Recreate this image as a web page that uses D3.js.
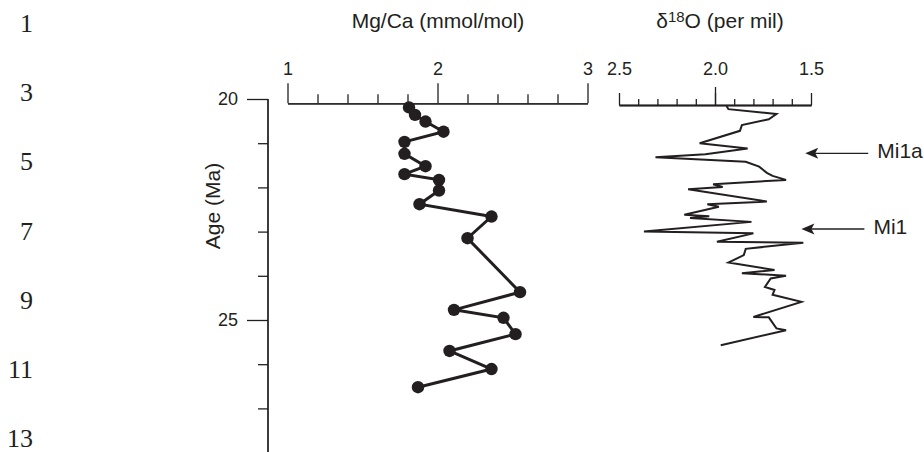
<html>
  <style>
    body { margin: 0; background: #fff; }
    svg text { font-family: "Liberation Sans", Arial, sans-serif; fill: #231f20; }
    .axis path, .axis line { stroke: #231f20; stroke-width: 1.3px; }
    .lineno { font-family: "Liberation Serif", "Times New Roman", serif !important; }
  </style>
  <body>
    <svg id="chart" width="924" height="452"></svg>
  </body>
  <script src="https://cdn.jsdelivr.net/npm/d3@7"></script>
  <script>
    // Mg/Ca record (age in Ma, mmol/mol)
    const mgAge = [20.19, 20.36, 20.51, 20.74, 20.97, 21.24, 21.52, 21.70, 21.83, 22.07,
      22.38, 22.66, 23.15, 24.37, 24.77, 24.95, 25.32, 25.70, 26.11, 26.52]
    const mgCa = [1.81, 1.85, 1.92, 2.04, 1.78, 1.78, 1.92, 1.78, 2.01, 2.01,
      1.88, 2.36, 2.20, 2.55, 2.11, 2.44, 2.52, 2.08, 2.36, 1.87]

    // oxygen isotope record (age in Ma, per mil)
    const isoAge = [20.16, 20.23, 20.34, 20.46, 20.59, 20.72, 21.00, 21.12, 21.25, 21.32,
      21.42, 21.53, 21.67, 21.74, 21.83, 21.93, 21.99, 22.04, 22.32, 22.38,
      22.44, 22.62, 22.65, 22.69, 22.78, 23.00, 23.04, 23.23, 23.25, 23.39,
      23.53, 23.70, 23.87, 23.94, 24.00, 24.06, 24.25, 24.32, 24.43, 24.59,
      24.93, 24.94, 25.19, 25.23, 25.57]
    const d18O = [1.94, 1.93, 1.68, 1.72, 1.86, 1.87, 2.08, 1.83, 2.05, 2.31,
      1.84, 1.77, 1.73, 1.70, 1.63, 2.01, 1.96, 2.14, 1.73, 2.04,
      1.98, 2.16, 2.03, 2.13, 1.81, 2.37, 1.80, 1.99, 1.54, 1.84,
      1.85, 1.93, 1.69, 1.86, 1.63, 1.71, 1.74, 1.69, 1.70, 1.55,
      1.80, 1.72, 1.68, 1.63, 1.97]

    // glaciation events marked by arrows
    const eventNames = ['Mi1a', 'Mi1']
    const eventAge = [21.23, 22.94]
    const eventD18O = [1.53, 1.55]

    const ageMajor = [20, 25]
    const ageMinor = [21, 22, 23, 24, 26, 27]
    const mgMajor = [1, 2, 3]
    const mgMinor = [1.2, 1.4, 1.6, 1.8, 2.2, 2.4, 2.6, 2.8]
    const isoLabels = [2.5, 2.0, 1.5]
    const isoMinor = [2.4, 2.3, 2.2, 2.1, 1.9, 1.8, 1.7, 1.6]
    const lineNumbers = [1, 3, 5, 7, 9, 11, 13]

    const ink = '#231f20'
    const svg = d3.select('#chart')

    const y = d3.scaleLinear().domain([20, 28]).range([99, 452.6])
    const xMg = d3.scaleLinear().domain([1, 3]).range([287.5, 587.5])
    const xIso = d3.scaleLinear().domain([2.5, 1.5]).range([619, 811])

    // page line numbers down the left margin
    const yLine = d3.scaleLinear().domain([1, 13]).range([32, 447])
    svg.append('g').selectAll('text').data(lineNumbers).enter()
      .append('text')
        .attr('class', 'lineno')
        .attr('x', 33)
        .attr('y', d => yLine(d))
        .attr('text-anchor', 'end')
        .style('font-size', '26px')
        .text(d => d)

    // age axis
    const ageAxis = svg.append('g').attr('class', 'axis').attr('transform', 'translate(268,0)')
    ageAxis.append('g')
      .call(d3.axisLeft(y).tickValues(ageMinor).tickSize(10).tickSizeOuter(0).tickFormat(''))
    ageAxis.append('g')
      .call(d3.axisLeft(y).tickValues(ageMajor).tickSize(21).tickPadding(9).tickSizeOuter(0))
    ageAxis.selectAll('.domain').attr('d', `M0,${y(20)}V${y(28)}`)
    ageAxis.selectAll('text').style('font-size', '18px').attr('fill', ink)
    svg.append('text')
      .attr('transform', 'translate(220,206) rotate(-90)')
      .attr('text-anchor', 'middle')
      .style('font-size', '21px')
      .text('Age (Ma)')

    // Mg/Ca axis
    const mgAxis = svg.append('g').attr('class', 'axis').attr('transform', 'translate(0,103.3)')
    mgAxis.append('g')
      .call(d3.axisTop(xMg).tickValues(mgMinor).tickSize(9).tickSizeOuter(0).tickFormat(''))
    mgAxis.append('g')
      .call(d3.axisTop(xMg).tickValues(mgMajor).tickSize(20).tickPadding(8).tickSizeOuter(0).tickFormat(d3.format('d')))
    mgAxis.selectAll('text').style('font-size', '18px').attr('fill', ink)
    svg.append('text')
      .attr('x', 438)
      .attr('y', 28)
      .attr('text-anchor', 'middle')
      .style('font-size', '21px')
      .text('Mg/Ca (mmol/mol)')

    // d18O axis
    const isoAxis = svg.append('g').attr('class', 'axis').attr('transform', 'translate(0,105)')
    isoAxis.append('g')
      .call(d3.axisTop(xIso).tickValues(isoMinor).tickSize(6).tickSizeOuter(0).tickFormat(''))
    isoAxis.append('g')
      .call(d3.axisTop(xIso).tickValues(isoLabels).tickSize(12).tickPadding(18).tickSizeOuter(0).tickFormat(d3.format('.1f')))
    isoAxis.append('g')
      .call(d3.axisTop(xIso).tickValues([2.0]).tickSize(18).tickSizeOuter(0).tickFormat(''))
    isoAxis.selectAll('text').style('font-size', '18px').attr('fill', ink)
    const isoTitle = svg.append('text')
      .attr('x', 720)
      .attr('y', 28)
      .attr('text-anchor', 'middle')
      .style('font-size', '21px')
    isoTitle.append('tspan').text('\u03b4')
    isoTitle.append('tspan').attr('dy', -6).style('font-size', '15px').text('18')
    isoTitle.append('tspan').attr('dy', 6).text('O (per mil)')

    // Mg/Ca line and dots
    const mgPoints = mgAge.map((a, i) => [mgCa[i], a])
    svg.append('path')
      .datum(mgPoints)
      .attr('fill', 'none')
      .attr('stroke', ink)
      .attr('stroke-width', 3)
      .attr('d', d3.line().x(d => xMg(d[0])).y(d => y(d[1])))
    svg.append('g').selectAll('circle').data(mgPoints).enter()
      .append('circle')
        .attr('cx', d => xMg(d[0]))
        .attr('cy', d => y(d[1]))
        .attr('r', 6.2)
        .attr('fill', ink)

    // d18O curve
    const isoPoints = isoAge.map((a, i) => [d18O[i], a])
    svg.append('path')
      .datum(isoPoints)
      .attr('fill', 'none')
      .attr('stroke', ink)
      .attr('stroke-width', 2)
      .attr('stroke-linejoin', 'miter')
      .attr('d', d3.line().x(d => xIso(d[0])).y(d => y(d[1])))

    // event arrows
    const events = svg.append('g').selectAll('g').data(eventNames).enter().append('g')
      .attr('transform', (d, i) => `translate(${xIso(eventD18O[i])},${y(eventAge[i])})`)
    events.append('line')
      .attr('x1', 8)
      .attr('x2', 63)
      .attr('stroke', ink)
      .attr('stroke-width', 1.4)
    events.append('path')
      .attr('d', 'M0,0L13,-5.5L10,0L13,5.5Z')
      .attr('fill', ink)
    events.append('text')
      .attr('x', 72)
      .attr('y', 5)
      .style('font-size', '21px')
      .text(d => d)
  </script>
</html>
